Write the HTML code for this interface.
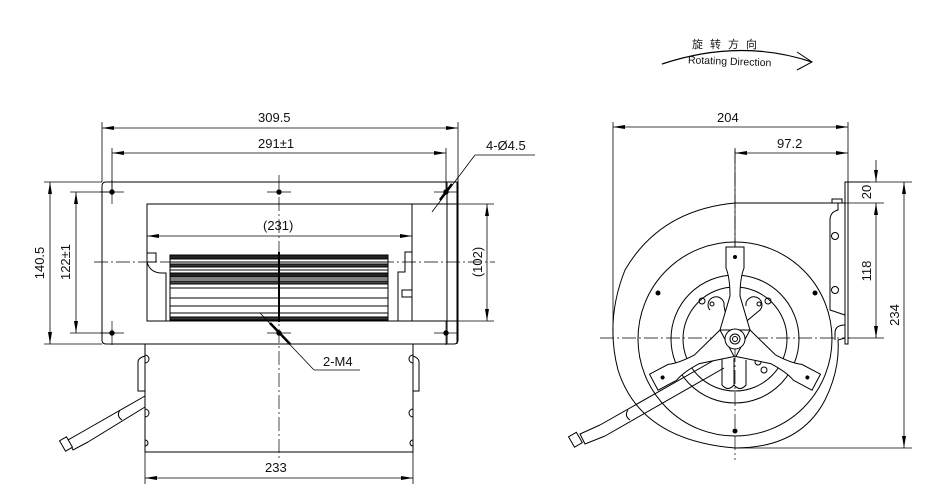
<!DOCTYPE html>
<html><head><meta charset="utf-8"><style>
html,body{margin:0;padding:0;background:#fff}
svg{display:block}
text{font-family:"Liberation Sans","Noto Sans CJK SC",sans-serif;fill:#111}
</style></head><body>
<svg width="933" height="500" viewBox="0 0 933 500" xmlns="http://www.w3.org/2000/svg">
<defs>
<marker id="a" viewBox="0 0 12 4" refX="12" refY="2" markerWidth="12" markerHeight="4" orient="auto-start-reverse" markerUnits="userSpaceOnUse"><path d="M0,0 L12,2 L0,4z" fill="#000"/></marker>
<g id="arm">
<path d="M726,247 H744 V268 Q740,278 740,296 L750,330 L720,330 L730,296 Q730,278 726,268z" fill="#fff" stroke="#000"/>
<circle cx="735" cy="257" r="2" fill="#000"/>
</g>
</defs>
<g stroke="#000" stroke-width="1" fill="none">
<path d="M662,64 Q740,38 812,62" stroke-width="1.2"/>
<path d="M797,52 L812,62 L797,70" />
</g>
<text x="692" y="48" font-size="11" letter-spacing="7">旋转方向</text>
<text x="688" y="65" font-size="10.5" transform="rotate(2 735 60)">Rotating Direction</text>

<g stroke="#000" stroke-width="1" fill="none">
<path d="M106,182 H458 V340 Q458,344 454,344 H106 Q102,344 102,340 V186 Q102,182 106,182z"/>
<line x1="447" y1="182" x2="447" y2="344"/>
<line x1="457" y1="182" x2="457" y2="344"/>
<rect x="147" y="204" width="265" height="117"/>
<line x1="412" y1="204" x2="458" y2="204"/>
<line x1="412" y1="321" x2="458" y2="321"/>
<path d="M147,253 H156 V262 H147"/>
<path d="M147,262 Q150,273 162,273 H166 V321"/>
<path d="M412,252 H405 V272 H398 V321"/>
<rect x="402" y="290" width="10" height="7"/>
<rect x="170" y="255" width="218" height="65"/>
<g stroke-width="1">
<line x1="170" y1="262" x2="388" y2="262"/>
<line x1="170" y1="270" x2="388" y2="270"/>
<line x1="170" y1="279" x2="388" y2="279"/>
<line x1="170" y1="288" x2="388" y2="288"/>
<line x1="170" y1="298" x2="388" y2="298"/>
<line x1="170" y1="306" x2="388" y2="306"/>
<line x1="170" y1="313" x2="388" y2="313"/>
</g>
<rect x="170" y="255" width="218" height="4" fill="#222"/>
<rect x="170" y="264" width="218" height="3" fill="#333"/>
<rect x="170" y="273" width="218" height="4" fill="#222"/>
<rect x="170" y="281" width="218" height="3" fill="#444"/>
<rect x="170" y="317" width="218" height="3" fill="#333"/>
<line x1="279" y1="252" x2="279" y2="322" stroke-width="2"/>
<g fill="#000">
<circle cx="112" cy="192" r="2.2"/><circle cx="279" cy="192" r="2.2"/><circle cx="446" cy="192" r="2.2"/>
<circle cx="112" cy="333" r="2.2"/><circle cx="279" cy="333" r="2.2"/><circle cx="446" cy="333" r="2.2"/>
</g>
<g stroke-width="0.7">
<line x1="100" y1="192" x2="124" y2="192"/><line x1="112" y1="180" x2="112" y2="204"/>
<line x1="267" y1="192" x2="291" y2="192"/><line x1="434" y1="192" x2="458" y2="192"/>
<line x1="100" y1="333" x2="124" y2="333"/><line x1="112" y1="321" x2="112" y2="345"/>
<line x1="267" y1="333" x2="291" y2="333"/><line x1="434" y1="333" x2="458" y2="333"/>
<line x1="446" y1="321" x2="446" y2="345"/>
</g>
<g stroke-width="0.7" stroke-dasharray="14,3,2,3">
<line x1="279" y1="175" x2="279" y2="460"/>
<line x1="94" y1="262" x2="495" y2="262"/>
<line x1="600" y1="338" x2="850" y2="338"/>
<line x1="735" y1="150" x2="735" y2="460"/>
</g>
<path d="M145,344 V452 H413 V344"/>
<path d="M145,350 V356 Q138,358 138,362 V391 H145"/>
<path d="M413,350 V356 Q419,358 419,362 V391 H413"/>
<path d="M145,355 A4,4 0 1 1 145,363"/><path d="M145,409 A4,4 0 1 1 145,417"/><path d="M145,440 A3,3 0 1 1 145,446"/>
<path d="M413,355 A4,4 0 1 0 413,363"/><path d="M413,409 A4,4 0 1 0 413,417"/><path d="M413,440 A3,3 0 1 0 413,446"/>
<path d="M145,396 L82,432 M145,407 L88,442"/>
<path d="M120,410 Q116,416 122,420"/>
<path d="M82,432 L68,440 L73,450 L88,442"/>
<rect x="62" y="438" width="8" height="12" transform="rotate(-30 66 444)" fill="#fff"/>
<g stroke-width="0.8">
<line x1="102" y1="122" x2="102" y2="182"/><line x1="458" y1="122" x2="458" y2="182"/>
<line x1="112" y1="148" x2="112" y2="192"/><line x1="446" y1="148" x2="446" y2="192"/>
<line x1="102" y1="128" x2="458" y2="128" marker-start="url(#a)" marker-end="url(#a)"/>
<line x1="112" y1="153" x2="446" y2="153" marker-start="url(#a)" marker-end="url(#a)"/>
<line x1="44" y1="182" x2="102" y2="182"/><line x1="44" y1="344" x2="102" y2="344"/>
<line x1="70" y1="192" x2="112" y2="192"/><line x1="70" y1="333" x2="112" y2="333"/>
<line x1="50" y1="182" x2="50" y2="344" marker-start="url(#a)" marker-end="url(#a)"/>
<line x1="76" y1="192" x2="76" y2="333" marker-start="url(#a)" marker-end="url(#a)"/>
<line x1="147" y1="236" x2="412" y2="236" marker-start="url(#a)" marker-end="url(#a)"/>
<line x1="458" y1="204" x2="494" y2="204"/><line x1="458" y1="321" x2="494" y2="321"/>
<line x1="487" y1="204" x2="487" y2="321" marker-start="url(#a)" marker-end="url(#a)"/>
<line x1="145" y1="452" x2="145" y2="484"/><line x1="413" y1="452" x2="413" y2="484"/>
<line x1="145" y1="478" x2="413" y2="478" marker-start="url(#a)" marker-end="url(#a)"/>
<line x1="432" y1="212" x2="475" y2="155"/><line x1="475" y1="155" x2="535" y2="155"/>
<line x1="260" y1="313" x2="314" y2="370"/><line x1="314" y1="370" x2="360" y2="370"/>
</g>
<line x1="440" y1="200" x2="452" y2="184" stroke-width="2.5"/>
<line x1="270" y1="323" x2="290" y2="344" stroke-width="2.5"/>

<!-- RIGHT VIEW -->
<path d="M845,203 H735 Q660,210 625,270 Q605,320 618,370 Q640,440 735,448 Q800,448 825,400 Q840,370 838,340 L845,338"/>
<path d="M838,203 L838,210 Q830,212 830,220 V310 L845,315"/>
<path d="M845,325 Q835,325 835,333 V340"/>
<circle cx="835" cy="236" r="3.5"/><circle cx="835" cy="290" r="3.5"/>
<rect x="845" y="182" width="3" height="162" fill="#fff"/>
<line x1="845" y1="182" x2="870" y2="182"/>
<rect x="832" y="199" width="10" height="4"/>
<circle cx="735" cy="339" r="97"/>
<circle cx="735" cy="339" r="64"/>
<circle cx="735" cy="339" r="52"/>
<g fill="#000">
<circle cx="658" cy="293" r="2"/><circle cx="815" cy="293" r="2"/><circle cx="735" cy="431" r="2"/>
</g>
<path d="M710,310 A8,8 0 1 1 724,306 L728,325 M746,306 A8,8 0 1 1 760,310 L742,325"/>
<circle cx="712" cy="304" r="2"/><circle cx="759" cy="304" r="2"/>
<circle cx="702" cy="301" r="3"/><circle cx="768" cy="301" r="3"/>
<path d="M722,358 V385 Q728,392 734,385 V358 M734,385 Q740,392 746,385 V360"/>
<circle cx="758" cy="362" r="3"/><circle cx="764" cy="370" r="3"/>
<path d="M718,358 L600,425 M724,368 L605,436"/>
<path d="M628,410 Q624,416 630,420"/>
<path d="M600,425 L580,434 L585,444 L605,436"/>
<rect x="571" y="434" width="9" height="12" transform="rotate(-30 575 440)" fill="#fff"/>
<g stroke-width="0.8">
<line x1="613" y1="122" x2="613" y2="338"/>
<line x1="848" y1="122" x2="848" y2="182"/>
<line x1="735" y1="148" x2="735" y2="250"/>
<line x1="613" y1="127" x2="848" y2="127" marker-start="url(#a)" marker-end="url(#a)"/>
<line x1="735" y1="153" x2="848" y2="153" marker-start="url(#a)" marker-end="url(#a)"/>
<line x1="848" y1="182" x2="912" y2="182"/>
<line x1="845" y1="203" x2="884" y2="203"/>
<line x1="848" y1="338" x2="884" y2="338"/>
<line x1="735" y1="448" x2="912" y2="448"/>
<line x1="876" y1="160" x2="876" y2="182" marker-end="url(#a)"/>
<line x1="876" y1="203" x2="876" y2="338" marker-start="url(#a)" marker-end="url(#a)"/>
<line x1="904" y1="182" x2="904" y2="448" marker-start="url(#a)" marker-end="url(#a)"/>
</g>
</g>
<use href="#arm"/>
<use href="#arm" transform="rotate(-118 735 339)"/>
<use href="#arm" transform="rotate(118 735 339)"/>
<circle cx="735" cy="339" r="10" fill="#fff" stroke="#000"/>
<circle cx="735" cy="339" r="5" fill="none" stroke="#000"/>
<circle cx="735" cy="339" r="2.5" fill="none" stroke="#000"/>
<g font-size="13">
<text x="258" y="122">309.5</text>
<text x="258" y="148">291±1</text>
<text x="263" y="230">(231)</text>
<text x="486" y="150">4-Ø4.5</text>
<text x="323" y="366">2-M4</text>
<text x="265" y="472">233</text>
<text x="717" y="122">204</text>
<text x="777" y="148">97.2</text>
<text transform="translate(44,263) rotate(-90)" text-anchor="middle">140.5</text>
<text transform="translate(70,262) rotate(-90)" text-anchor="middle">122±1</text>
<text transform="translate(482,262) rotate(-90)" text-anchor="middle">(102)</text>
<text transform="translate(871,192) rotate(-90)" text-anchor="middle">20</text>
<text transform="translate(871,271) rotate(-90)" text-anchor="middle">118</text>
<text transform="translate(899,315) rotate(-90)" text-anchor="middle">234</text>
</g>
</svg>
</body></html>
